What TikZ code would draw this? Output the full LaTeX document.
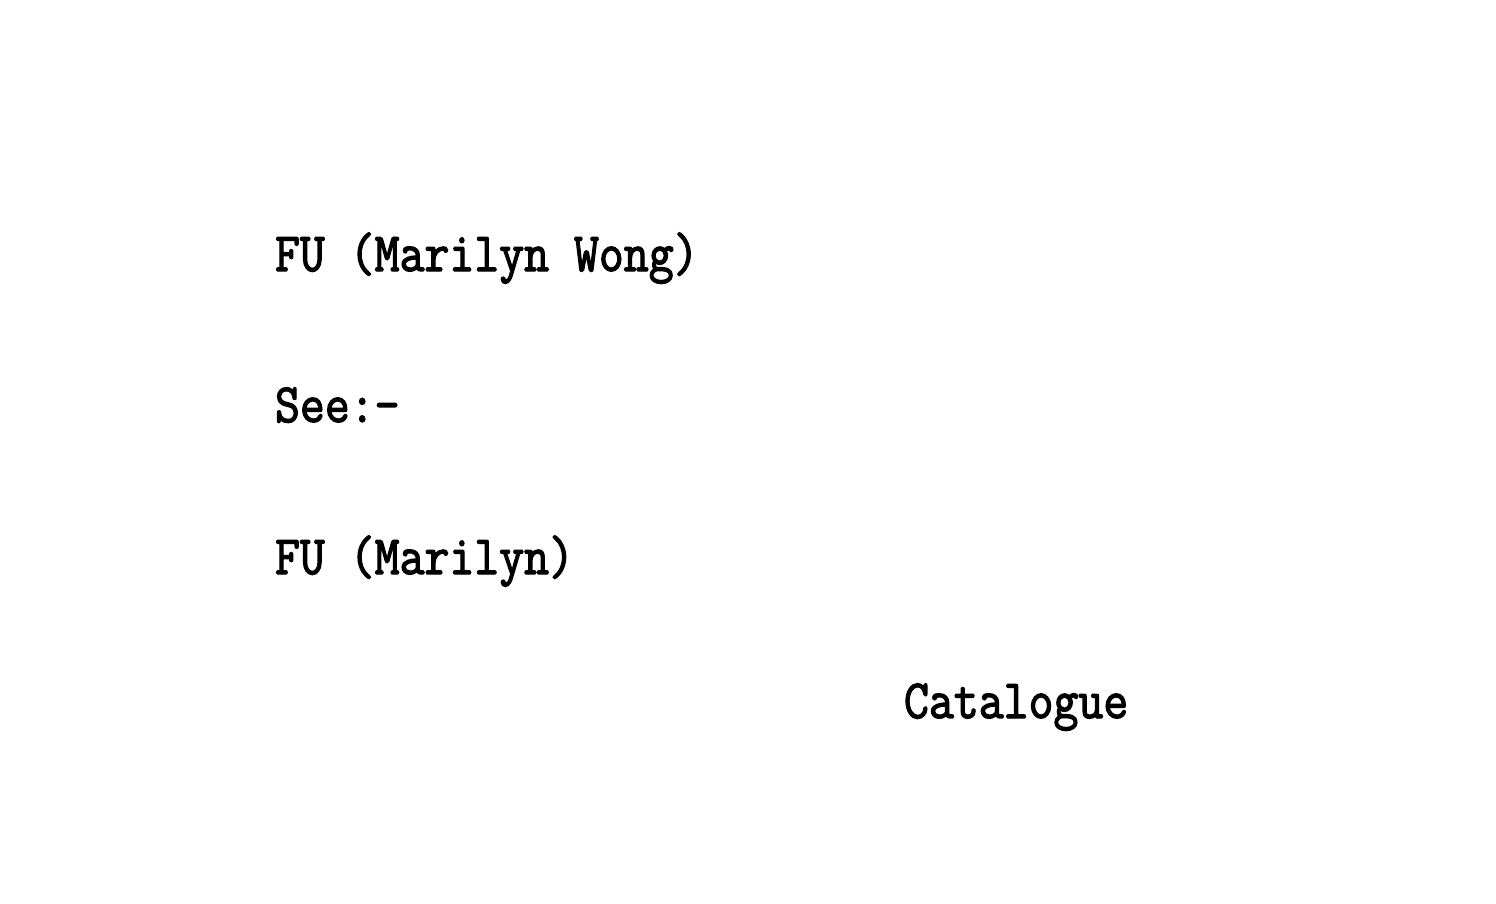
\documentclass[tikz,border=0pt]{standalone}
\usepackage{fontspec}
\newfontfamily\typewriter[FakeBold=2.5]{Latin Modern Mono}
\newcommand{\typedline}[1]{\scalebox{1.025}[1.17]{#1}}
\begin{document}
\begin{tikzpicture}[x=1pt,y=-1pt,
  typed/.style={anchor=base west,inner sep=0pt,outer sep=0pt,
    font=\typewriter\fontsize{47.2}{47.2}\selectfont}]
\useasboundingbox[fill=white] (0,0) rectangle (1496,904);
\node[typed] (name) at (275,271) {\typedline{FU (Marilyn Wong)}};
\node[typed] (see) at (275,422) {\typedline{See:-}};
\node[typed] (ref) at (275,574) {\typedline{FU (Marilyn)}};
\node[typed] (cat) at (904,718) {\typedline{Catalogue}};
\end{tikzpicture}
\end{document}
